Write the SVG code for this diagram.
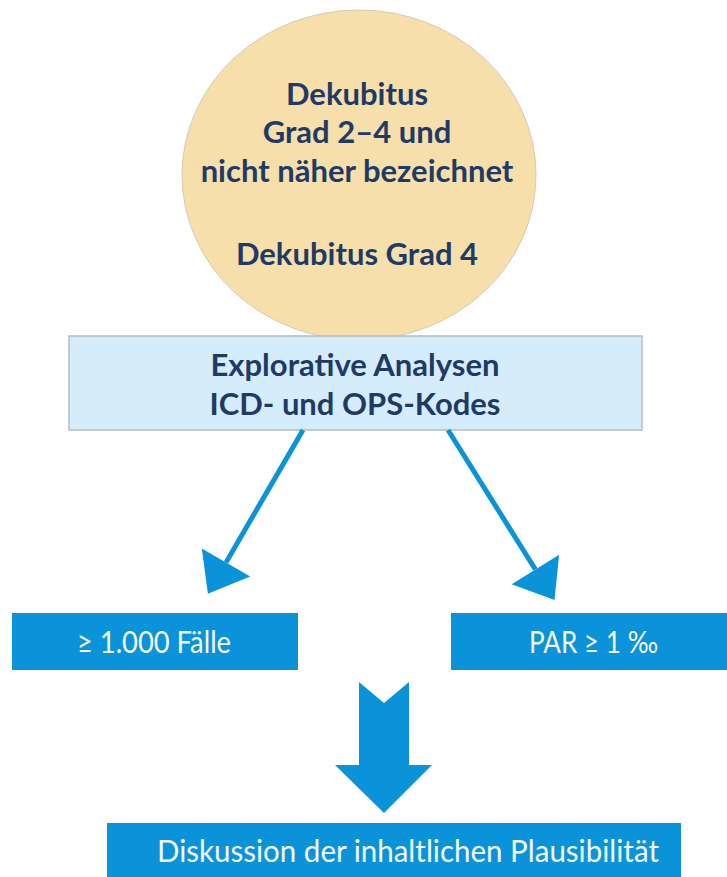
<svg xmlns="http://www.w3.org/2000/svg" width="727" height="877" viewBox="0 0 727 877">
<style>
.bg{fill:#ffffff}
.navy{font-family:Lato,"Open Sans","Liberation Sans",sans-serif;font-weight:bold;fill:#1F3A66;text-anchor:middle}
.wt{font-family:Lato,"Open Sans","Liberation Sans",sans-serif;fill:#F4FAFF;font-size:30px}
.blue{fill:#0A93D9}
.conn{stroke:#0A93D9;stroke-width:5;fill:none}
</style>
<defs>
<marker id="ah" markerUnits="userSpaceOnUse" markerWidth="40" markerHeight="60" refX="0" refY="28" orient="auto" overflow="visible">
<path d="M0,0 L36,28 L0,56 Z" fill="#0A93D9"/>
</marker>
</defs>
<rect class="bg" x="0" y="0" width="727" height="877"/>
<g id="circle">
<ellipse cx="359" cy="175" rx="177" ry="165" fill="#F6DFAA" stroke="#D6CBB0" stroke-width="1"/>
<text class="navy" font-size="31" x="357" y="105">Dekubitus</text>
<text class="navy" font-size="31" x="357" y="143">Grad 2–4 und</text>
<text class="navy" font-size="31" x="357" y="182">nicht näher bezeichnet</text>
<text class="navy" font-size="31" x="357" y="265">Dekubitus Grad 4</text>
</g>
<g id="analysen">
<rect x="69" y="336" width="573" height="94" fill="#D5ECFB" stroke="#B7BCC1" stroke-width="1.5"/>
<text class="navy" font-size="31" x="355" y="376">Explorative Analysen</text>
<text class="navy" font-size="31" x="355" y="415">ICD- und OPS-Kodes</text>
</g>
<g id="faelle">
<rect class="blue" x="12" y="613" width="286" height="57"/>
<text class="wt" x="77" y="653" textLength="154" lengthAdjust="spacingAndGlyphs">≥ 1.000 Fälle</text>
</g>
<g id="par">
<rect class="blue" x="451" y="613" width="276" height="57"/>
<text class="wt" x="529" y="653" textLength="129" lengthAdjust="spacingAndGlyphs">PAR ≥ 1 ‰</text>
</g>
<g id="diskussion">
<rect class="blue" x="107" y="823" width="574" height="54"/>
<text class="wt" x="157" y="862" textLength="502" lengthAdjust="spacingAndGlyphs">Diskussion der inhaltlichen Plausibilität</text>
</g>
<g id="connectors">
<line class="conn" x1="303" y1="430" x2="226" y2="562.5" marker-end="url(#ah)"/>
<line class="conn" x1="448" y1="430" x2="535.4" y2="569.5" marker-end="url(#ah)"/>
<path class="blue" d="M359,682 L384,703 L409,682 L409,765 L432,765 L384,813 L335,765 L359,765 Z"/>
</g>
</svg>
